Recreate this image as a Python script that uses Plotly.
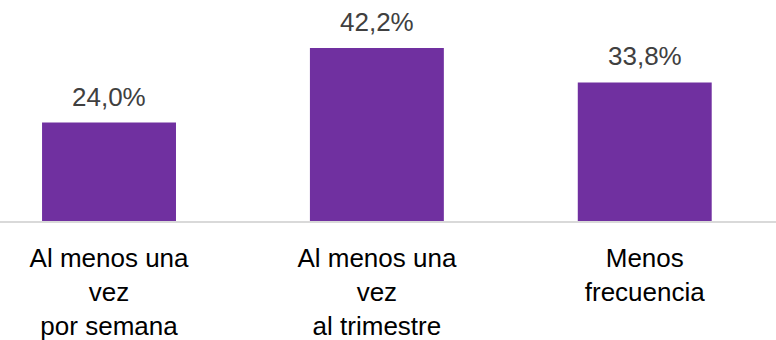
import plotly.graph_objects as go

# data
categorias = ["Al menos una<br>vez<br>por semana", "Al menos una<br>vez<br>al trimestre", "Menos<br>frecuencia"]
valores = [24.0, 42.2, 33.8]
etiquetas = ["24,0%", "42,2%", "33,8%"]

morado = "#7030A0"

fig = go.Figure()
fig.add_trace(go.Bar(
    x=categorias,
    y=valores,
    marker=dict(color=morado, line=dict(width=0)),
    width=0.5,
    hoverinfo="skip",
))

# value labels above each bar
for cat, v, lab in zip(categorias, valores, etiquetas):
    fig.add_annotation(
        x=cat, y=v, text=lab, showarrow=False,
        yanchor="bottom", yshift=9,
        font=dict(family="Liberation Sans, Arial", size=26, color="#404040"),
    )

fig.update_layout(
    width=776, height=340,
    margin=dict(l=0, r=0, t=0, b=119),
    paper_bgcolor="white", plot_bgcolor="white",
    showlegend=False,
    font=dict(family="Liberation Sans, Arial", size=26, color="#000000"),
)
fig.update_xaxes(
    type="category",
    range=[-0.407, 2.490],
    automargin=False,
    showline=True, linecolor="#d9d9d9", linewidth=2,
    showgrid=False, ticks="",
    ticklabelstandoff=13,
    tickfont=dict(family="Liberation Sans, Arial", size=26, color="#000000"),
)
fig.update_yaxes(
    range=[0, 53.9],
    automargin=False,
    visible=False,
    showgrid=False, zeroline=False,
)

# page body has a default 8px margin, drop it so the figure sits at 0,0
fig.write_html("out.html", config={"displayModeBar": False},
               post_script="document.body.style.margin='0';")
